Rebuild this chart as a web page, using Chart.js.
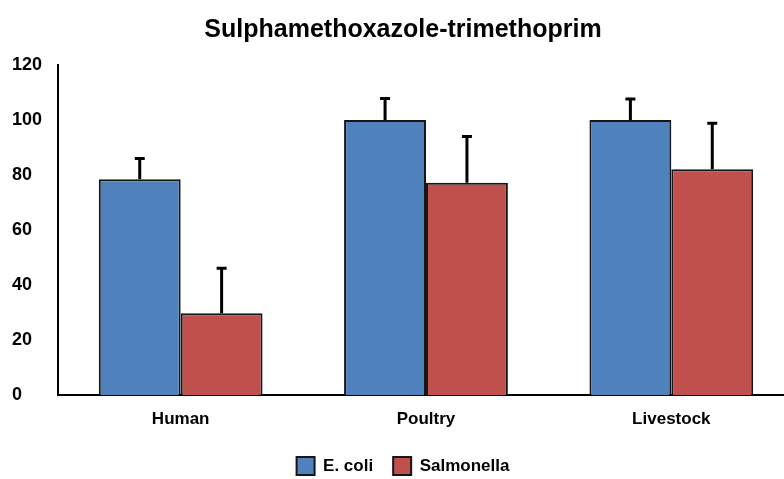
<!DOCTYPE html>
<html>
<head>
<meta charset="utf-8">
<script src="https://cdn.jsdelivr.net/npm/chart.js@4.4.1/dist/chart.umd.min.js"></script>
<style>
  html, body { margin: 0; padding: 0; background: #fff; overflow: hidden; }
  #wrap { width: 800px; height: 479px; }
</style>
</head>
<body>
<div id="wrap"><canvas id="chart" width="800" height="479"></canvas></div>
<script>
// data
const categories = ['Human', 'Poultry', 'Livestock'];
const ecoliValues = [78.5, 100, 100];
const ecoliErrors = [7.5, 7.8, 7.6];
const salmonellaValues = [29.7, 77.2, 82.1];
const salmonellaErrors = [16.4, 16.8, 16.7];
const yTicks = [0, 20, 40, 60, 80, 100, 120];

const FONT = '"Liberation Sans", Arial, sans-serif';

// draws the one-sided (upper) error bars on top of each bar
const errorBars = {
    id: 'errorBars',
    afterDatasetsDraw(chart) {
        const ctx = chart.ctx;
        const y = chart.scales.y;
        ctx.save();
        ctx.strokeStyle = '#000';
        ctx.lineWidth = 3;
        chart.data.datasets.forEach((ds, i) => {
            const meta = chart.getDatasetMeta(i);
            meta.data.forEach((bar, j) => {
                const top = y.getPixelForValue(ds.data[j] + ds.errors[j]);
                const base = y.getPixelForValue(ds.data[j]);
                ctx.beginPath();
                ctx.moveTo(bar.x, base);
                ctx.lineTo(bar.x, top);
                ctx.moveTo(bar.x - 5, top);
                ctx.lineTo(bar.x + 5, top);
                ctx.stroke();
            });
        });
        ctx.restore();
    }
};

new Chart(document.getElementById('chart'), {
    type: 'bar',
    data: {
        labels: categories,
        datasets: [
            {
                label: 'E. coli',
                data: ecoliValues,
                errors: ecoliErrors,
                backgroundColor: '#4f81bd',
                borderColor: '#161616',
                borderWidth: 2,
                categoryPercentage: 0.6675,
                barPercentage: 1
            },
            {
                label: 'Salmonella',
                data: salmonellaValues,
                errors: salmonellaErrors,
                backgroundColor: '#c0504d',
                borderColor: '#161616',
                borderWidth: 2,
                categoryPercentage: 0.6675,
                barPercentage: 1
            }
        ]
    },
    options: {
        responsive: false,
        animation: false,
        layout: { padding: { left: 12, right: 6, top: 0, bottom: -6 } },
        plugins: {
            tooltip: { enabled: false },
            title: {
                display: true,
                text: 'Sulphamethoxazole-trimethoprim',
                color: '#000',
                font: { family: FONT, size: 25, weight: 'bold' },
                padding: { top: 15, bottom: 20 }
            },
            legend: {
                position: 'bottom',
                labels: {
                    color: '#000',
                    font: { family: FONT, size: 17, weight: 'bold' },
                    boxWidth: 18,
                    boxHeight: 18,
                    padding: 20
                }
            }
        },
        scales: {
            x: {
                grid: { display: false },
                border: { display: true, color: '#000', width: 2 },
                ticks: {
                    color: '#000',
                    font: { family: FONT, size: 17, weight: 'bold' },
                    padding: 6
                },
                afterFit(scale) { scale.height = 42; }
            },
            y: {
                min: 0,
                max: 120,
                afterBuildTicks(scale) { scale.ticks = yTicks.map(v => ({ value: v })); },
                grid: { display: false },
                border: { display: true, color: '#000', width: 2 },
                ticks: {
                    color: '#000',
                    crossAlign: 'far',
                    font: { family: FONT, size: 18, weight: 'bold' }
                },
                afterFit(scale) { scale.width = 46; }
            }
        }
    },
    plugins: [errorBars]
});
</script>
</body>
</html>
